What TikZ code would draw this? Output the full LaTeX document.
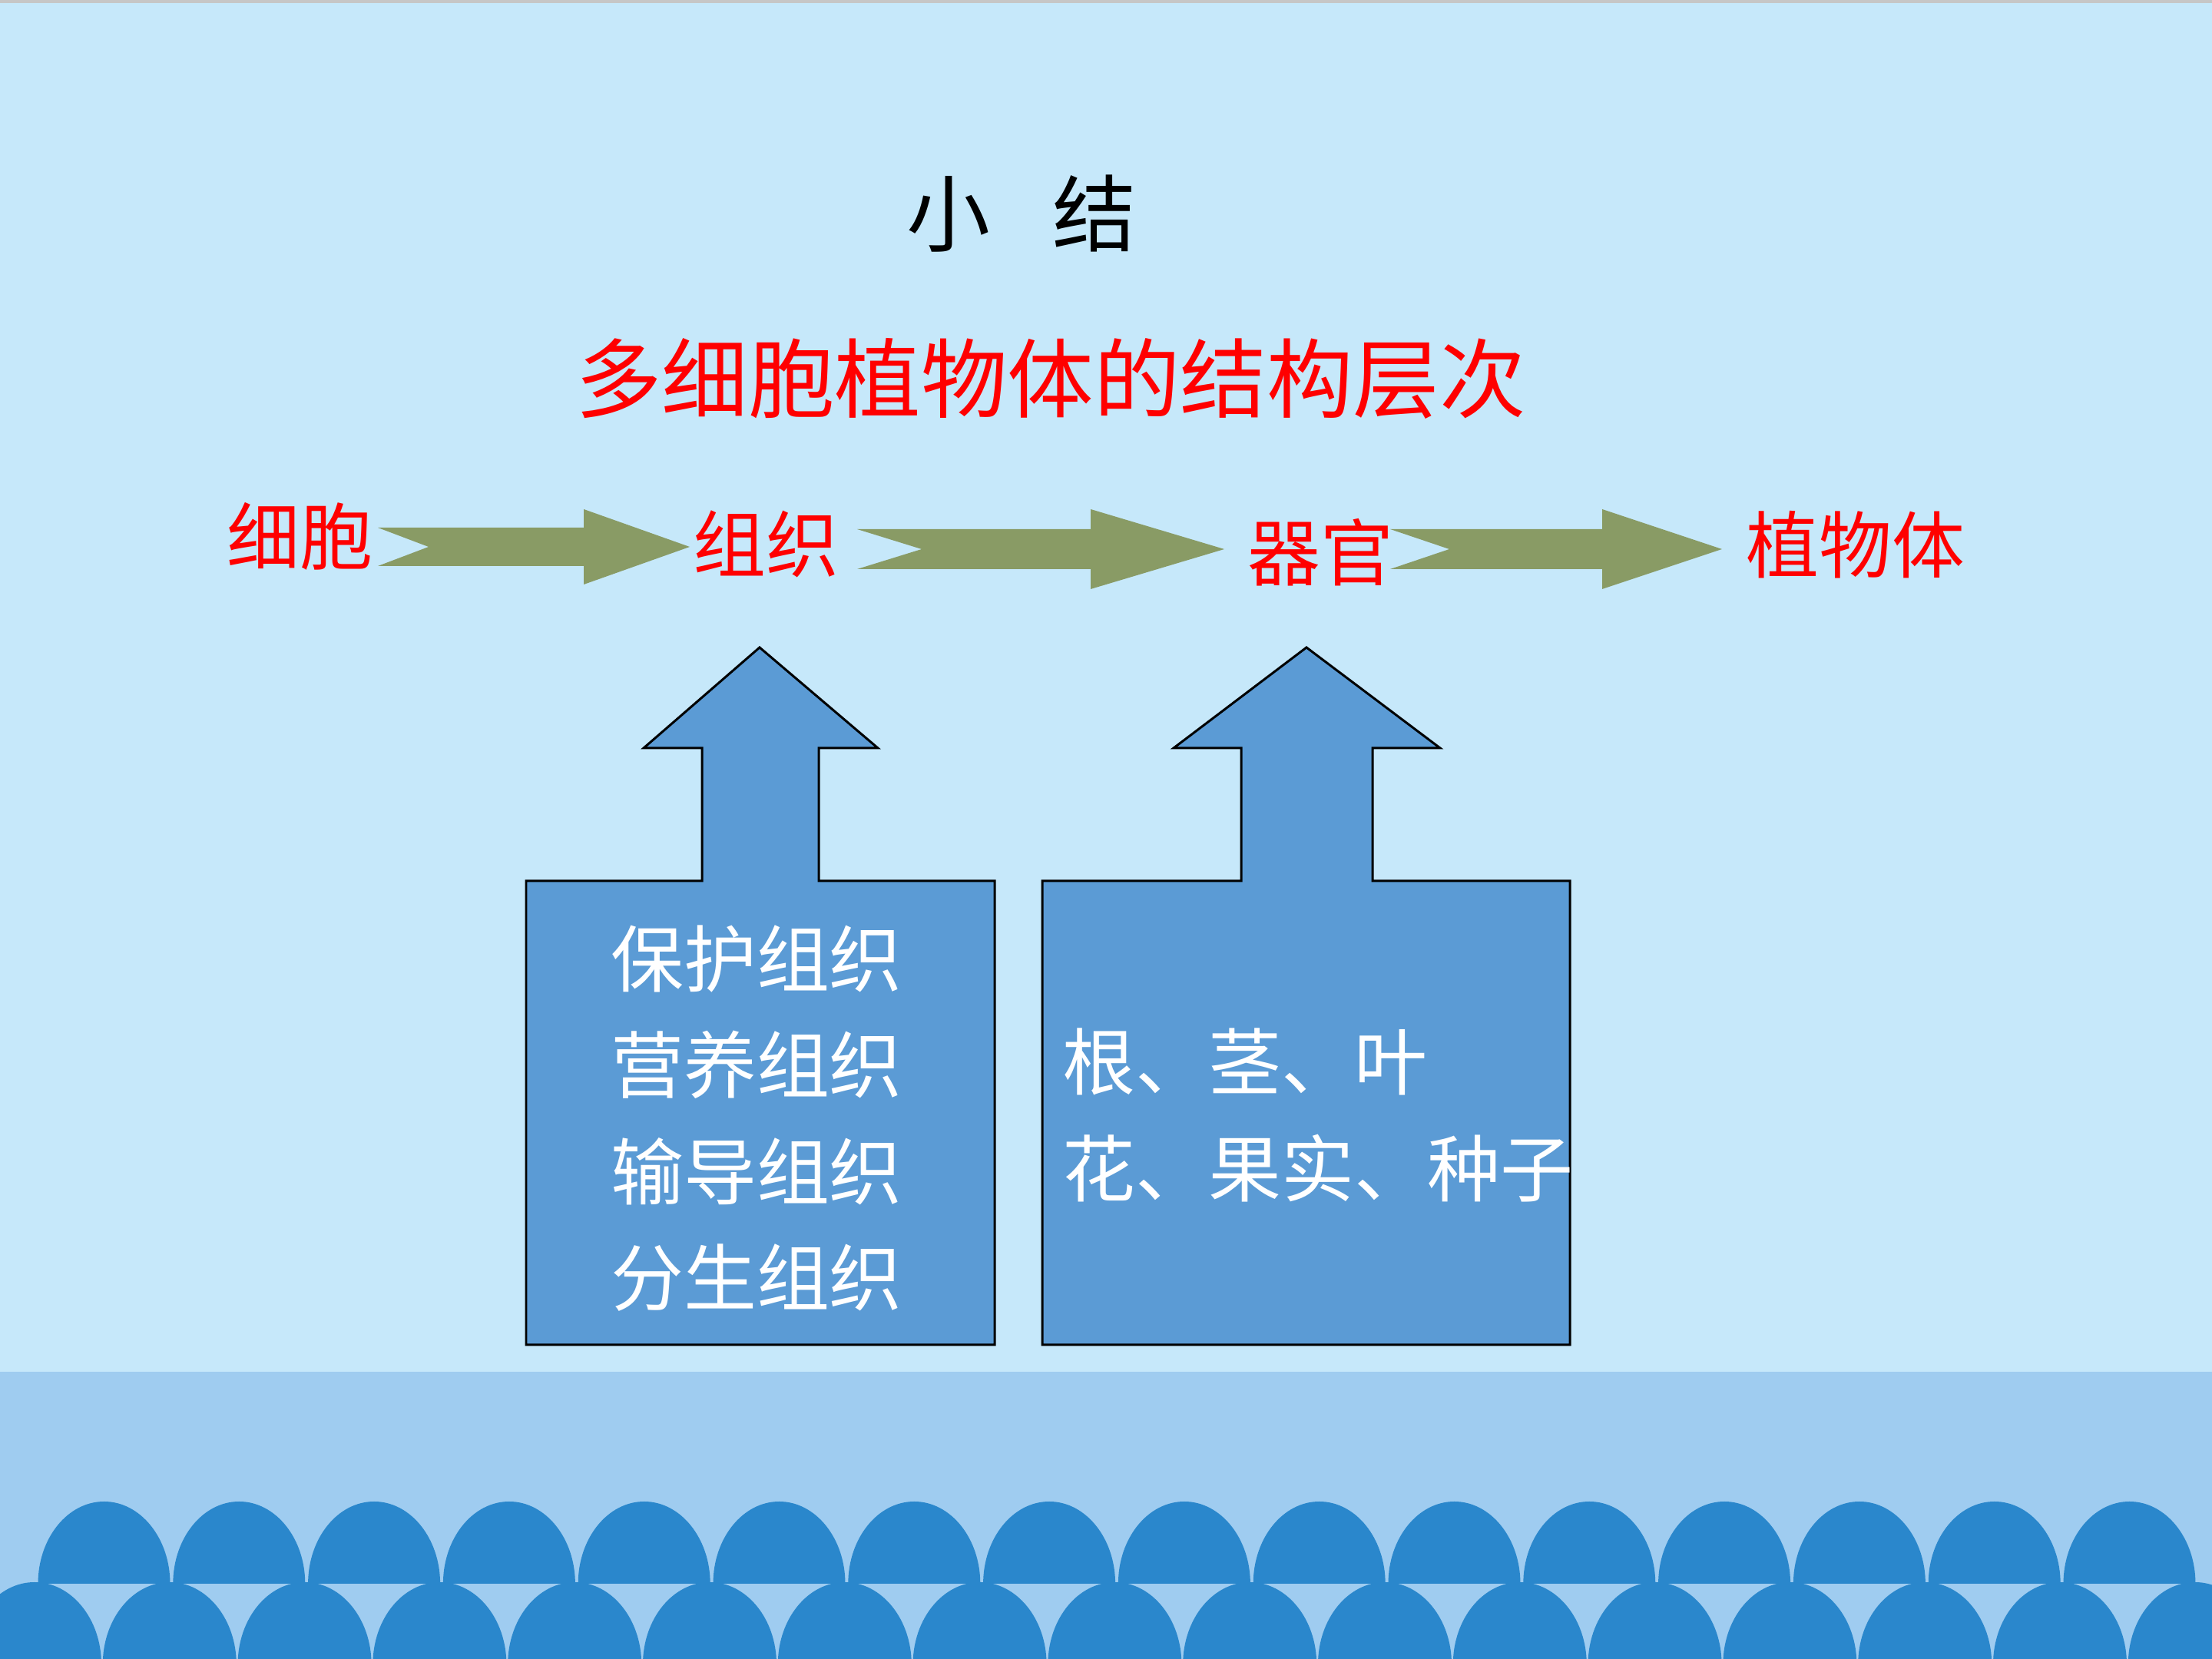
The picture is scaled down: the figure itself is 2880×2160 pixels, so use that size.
\documentclass[tikz,border=0pt]{standalone}
\usepackage{fontspec}
\newfontfamily\cjk{Noto Sans CJK SC}
\usetikzlibrary{arrows.meta, positioning}
\definecolor{bgblue}{HTML}{C6E8FA}
\definecolor{bandblue}{HTML}{9FCCF0}
\definecolor{waveblue}{HTML}{2A87CC}
\definecolor{boxblue}{HTML}{5B9BD5}
\definecolor{flowgreen}{HTML}{899B65}

\begin{document}
\begin{tikzpicture}[
  x=0.01cm, y=0.01cm,
  titlestyle/.style={font=\cjk\fontsize{31}{31}\selectfont, inner sep=0pt},
  heading/.style={font=\cjk\fontsize{32}{32}\selectfont, text=red, inner sep=0pt},
  level/.style={font=\cjk\fontsize{27}{27}\selectfont, text=red, inner sep=0pt},
  flowarrow/.style={fill=flowgreen},
  upbox/.style={fill=boxblue, draw=black, line width=0.85pt, line join=miter},
  boxtext/.style={font=\cjk\fontsize{27}{39.3}\selectfont, text=white, inner sep=0pt},
  wave/.style={fill=waveblue}
]
  \useasboundingbox (0,0) rectangle (2880,2160);
  \clip (0,0) rectangle (2880,2160);

  % background, sea band and scallops
  \fill[bgblue] (0,0) rectangle (2880,2160);
  \fill[gray!45] (0,2156) rectangle (2880,2160);
  \fill[bandblue] (0,0) rectangle (2880,374);
  \foreach \k in {0,...,15}{
    \fill[wave] (135.5+\k*175.8-86,98) arc[start angle=180, end angle=0, x radius=86, y radius=107] -- cycle;
  }
  \foreach \k in {0,...,16}{
    \fill[wave] (45+\k*175.8-87,-7) arc[start angle=180, end angle=0, x radius=87, y radius=107] -- cycle;
  }

  \node[titlestyle] (title)    at (1330,1882) {小\hspace{0.75em}结};
  \node[heading]    (subtitle) at (1368,1667) {多细胞植物体的结构层次};

  \node[level] (cell)   at (390,1462)  {细胞};
  \node[level] (tissue) at (997,1452)  {组织};
  \node[level] (organ)  at (1719,1441) {器官};
  \node[level] (plant)  at (2416,1451) {植物体};

  % notched arrows: tail x / notch / head base x / tip x / mid y / shaft / head
  \foreach \t/\n/\b/\p/\y/\s/\h in {492/66/760/898/1448/25/49, 1116/84/1420/1594/1445/26/52, 1810/77/2086/2242/1445/26/52}{
    \fill[flowarrow] (\t,\y+\s) -- (\t+\n,\y) -- (\t,\y-\s) -- (\b,\y-\s) -- (\b,\y-\h)
      -- (\p,\y) -- (\b,\y+\h) -- (\b,\y+\s) -- cycle;
  }

  % boxes with up arrows
  \foreach \bl/\br/\sl/\sr/\hl/\hr/\tip in {685/1295/914/1066/838/1143/989, 1357/2044/1616/1787/1528/1875/1701}{
    \draw[upbox] (\bl,409) -- (\bl,1013) -- (\sl,1013) -- (\sl,1186) -- (\hl,1186) -- (\tip,1317)
      -- (\hr,1186) -- (\sr,1186) -- (\sr,1013) -- (\br,1013) -- (\br,409) -- cycle;
  }

  \node[boxtext, align=center] (tissuelist) at (985,704) {保护组织\\营养组织\\输导组织\\分生组织};
  \node[boxtext, align=left, anchor=west] (organlist) at (1383,708) {根、茎、叶\\花、果实、种子};
\end{tikzpicture}
\end{document}
